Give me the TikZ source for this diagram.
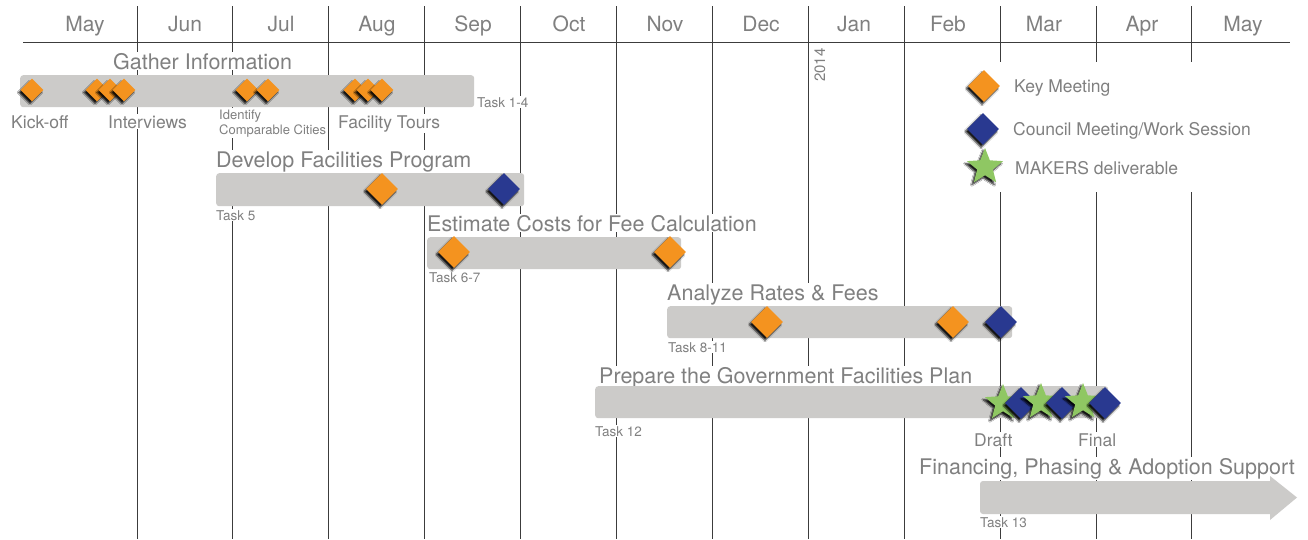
\documentclass[tikz,border=0pt]{standalone}
\usepackage{fontspec}
\setmainfont{TeX Gyre Heros}
\usetikzlibrary{shapes.geometric,shadows.blur}

\definecolor{korange}{HTML}{F4931F}
\definecolor{kblue}{HTML}{293990}
\definecolor{kgreen}{HTML}{8FC763}
\definecolor{bargray}{HTML}{CCCBC9}
\definecolor{txtgray}{HTML}{808080}
\definecolor{gridcol}{HTML}{3C3C3C}

\newcommand\gtMonth{\fontsize{21}{25}\selectfont}
\newcommand\gtTitle{\fontsize{21.5}{25}\selectfont}
\newcommand\gtLabel{\fontsize{17.5}{21}\selectfont}
\newcommand\gtTask{\fontsize{13.5}{15}\selectfont}

\tikzset{
  gridline/.style={draw=gridcol, line width=1pt},
  txt/.style={text=txtgray, fill=white, inner sep=1pt},
  month/.style={text=txtgray, inner sep=0pt, anchor=base, font=\gtMonth},
  tasktitle/.style={txt, anchor=base west, font=\gtTitle},
  evlabel/.style={txt, anchor=base west, font=\gtLabel},
  tasknum/.style={txt, anchor=base west, font=\gtTask},
  bar/.style={fill=bargray, rounded corners=3pt, inner sep=0pt, anchor=north west, minimum height=32pt},
  mshadow/.style={blur shadow={shadow xshift=-2pt, shadow yshift=-2.5pt, shadow blur radius=1.4pt, shadow blur steps=6, shadow opacity=90}},
  mk/.style={diamond, inner sep=0pt, minimum width=#1, minimum height=#1, mshadow},
  keymeet/.style={mk=32pt, fill=korange},
  keysmall/.style={mk=23pt, fill=korange},
  council/.style={mk=32pt, fill=kblue},
  deliv/.style={star, star points=5, star point ratio=2.3, minimum size=38pt, inner sep=0pt, fill=kgreen, mshadow},
}

\begin{document}
\begin{tikzpicture}[x=1pt,y=-1pt]
  \useasboundingbox (0,0) rectangle (1308,539);
  \fill[white] (0,0) rectangle (1308,539);

  % month grid
  \foreach \k in {0,...,11}
    \draw[gridline] ({137+95.9*\k},6) -- ({137+95.9*\k},539);
  \draw[gridline] (23,42) -- (1290,42);

  \foreach \m/\x [count=\i] in {May/85,Jun/185,Jul/281,Aug/377,Sep/473,Oct/569,Nov/665,Dec/761,Jan/854,Feb/948,Mar/1044,Apr/1142,May/1243}
    \node[month] (m\i) at (\x,31) {\m};
  \node[text=txtgray, rotate=90, inner sep=0pt, font=\fontsize{15}{18}\selectfont] (year) at (820,65) {2014};

  % legend panel
  \fill[white] (955,62) rectangle (1285,192);

  % task titles and labels
  \node[tasktitle] (t1) at (112,69) {Gather Information};
  \node[tasktitle] (t2) at (215,167) {Develop Facilities Program};
  \node[tasktitle] (t3) at (426,231) {Estimate Costs for Fee Calculation};
  \node[tasktitle] (t4) at (666,300) {Analyze Rates \& Fees};
  \node[tasktitle] (t5) at (598,383) {Prepare the Government Facilities Plan};
  \node[tasktitle] (t6) at (918,474) {Financing, Phasing \& Adoption Support};

  \node[evlabel] (l1) at (10,128) {Kick-off};
  \node[evlabel] (l2) at (107,128) {Interviews};
  \node[tasknum, font=\fontsize{13}{15}\selectfont] (l3) at (218,119) {Identify};
  \node[tasknum, font=\fontsize{13}{15}\selectfont] (l4) at (218,134) {Comparable Cities};
  \node[evlabel] (l5) at (337,128) {Facility Tours};
  \node[evlabel] (l6) at (973,446) {Draft};
  \node[evlabel] (l7) at (1077,446) {Final};

  \node[tasknum] (n1) at (476,107) {Task 1-4};
  \node[tasknum] (n2) at (215,220) {Task 5};
  \node[tasknum] (n3) at (428,282) {Task 6-7};
  \node[tasknum] (n4) at (667,352) {Task 8-11};
  \node[tasknum] (n5) at (594,436) {Task 12};
  \node[tasknum] (n6) at (979,527) {Task 13};

  % task bars
  \node[bar, minimum width=454pt] (bar1) at (20,75) {};
  \node[bar, minimum width=308pt, minimum height=33pt] (bar2) at (216,173) {};
  \node[bar, minimum width=254pt] (bar3) at (427,237) {};
  \node[bar, minimum width=345pt] (bar4) at (667,306) {};
  \node[bar, minimum width=513pt] (bar5) at (595,386) {};
  \fill[bargray, rounded corners=3pt] (1270,514) -- (980,514) -- (980,481) -- (1000,481)
    [sharp corners] -- (1270,481) -- (1270,476) -- (1297,497.5) -- (1270,520) -- cycle;

  % gather information events
  \node[keysmall] (e1) at (32,90) {};
  \node[keysmall] (e2) at (97,90) {};
  \node[keysmall] (e3) at (110,90) {};
  \node[keysmall] (e4) at (124,90) {};
  \node[keysmall] (e5) at (247,90) {};
  \node[keysmall] (e6) at (268,90) {};
  \node[keysmall] (e7) at (355,90) {};
  \node[keysmall] (e8) at (368,90) {};
  \node[keysmall] (e9) at (382,90) {};

  % facilities program
  \node[keymeet] (f1) at (382,189) {};
  \node[council] (f2) at (504,189) {};

  % cost estimate
  \node[keymeet] (c1) at (454,252) {};
  \node[keymeet] (c2) at (670,252) {};

  % rates and fees
  \node[keymeet] (r1) at (767,322) {};
  \node[keymeet] (r2) at (953,322) {};
  \node[council] (r3) at (1001,322) {};

  % facilities plan deliverables
  \node[deliv] (p1) at (1003,403) {};
  \node[council] (p2) at (1021,403) {};
  \node[deliv] (p3) at (1041,402) {};
  \node[council] (p4) at (1062,403) {};
  \node[deliv] (p5) at (1083,402) {};
  \node[council] (p6) at (1105,403) {};

  % legend
  \node[keymeet] (k1) at (984,86) {};
  \node[council] (k2) at (983,129) {};
  \node[deliv] (k3) at (985,167) {};
  \node[evlabel, fill=none] (k1t) at (1013,92) {Key Meeting};
  \node[evlabel, fill=none] (k2t) at (1012,135) {Council Meeting/Work Session};
  \node[evlabel, fill=none] (k3t) at (1014,174) {MAKERS deliverable};
\end{tikzpicture}
\end{document}
